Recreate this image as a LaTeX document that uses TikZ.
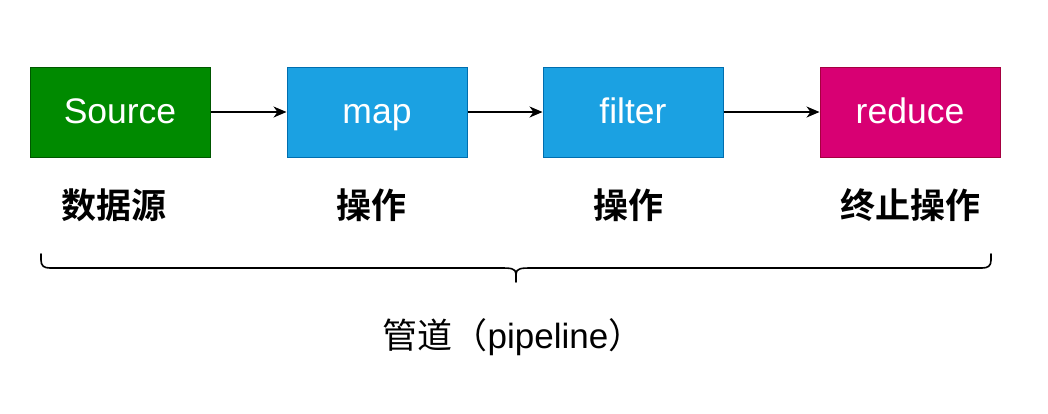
\documentclass[tikz,border=0pt]{standalone}
\usepackage{fontspec}
\setmainfont{Liberation Sans}
\newfontfamily\cjk{Noto Sans CJK SC}[BoldFont={Noto Sans CJK SC Bold}]
\usetikzlibrary{arrows.meta}
\definecolor{greenF}{HTML}{008A00}
\definecolor{greenS}{HTML}{005700}
\definecolor{blueF}{HTML}{1BA1E2}
\definecolor{blueS}{HTML}{006EAF}
\definecolor{pinkF}{HTML}{D80073}
\definecolor{pinkS}{HTML}{A50040}
\tikzset{
  stage/.style={minimum width=180pt, minimum height=90pt, inner sep=0pt, line width=1pt, text=white,
    text height=25pt, text depth=3pt, font=\fontsize{35.5}{40}\selectfont},
  lbl/.style={inner sep=0pt, font=\cjk\bfseries\fontsize{35}{40}\selectfont},
  flow/.style={line width=1.2pt, -{Stealth[length=13pt,width=11pt,inset=4pt]}},
  bracepath/.style={line width=1.6pt, line cap=round, line join=round}
}
\begin{document}
\begin{tikzpicture}[x=1pt,y=-1pt]
\useasboundingbox (0,0) rectangle (1048,413);
\node[stage, fill=greenF, draw=greenS] (src) at (120,112) {Source};
\node[stage, fill=blueF, draw=blueS] (map) at (377,112) {map};
\node[stage, fill=blueF, draw=blueS] (flt) at (633,112) {filter};
\node[stage, fill=pinkF, draw=pinkS] (red) at (910,112) {reduce};
\draw[flow] (src) -- (map);
\draw[flow] (map) -- (flt);
\draw[flow] (flt) -- (red);
\node[lbl] (l1) at (114,205) {数据源};
\node[lbl] (l2) at (371,205) {操作};
\node[lbl] (l3) at (628,205) {操作};
\node[lbl] (l4) at (910,205) {终止操作};
\coordinate (bl) at (41,254);
\coordinate (br) at (991,254);
\coordinate (bt) at (516,282);
\draw[bracepath] (bl) -- (41,260) .. controls (41,266) and (44,268) .. (50,268) -- (500,268)
  .. controls (510,268) and (516,268) .. (516,274) -- (bt);
\draw[bracepath] (br) -- (991,260) .. controls (991,266) and (988,268) .. (982,268) -- (532,268)
  .. controls (522,268) and (516,268) .. (516,274);
\node[inner sep=0pt, font=\fontsize{35}{40}\selectfont] (pipe) at (513,337) {{\cjk 管道（}pipeline{\cjk ）}};
\end{tikzpicture}
\end{document}
